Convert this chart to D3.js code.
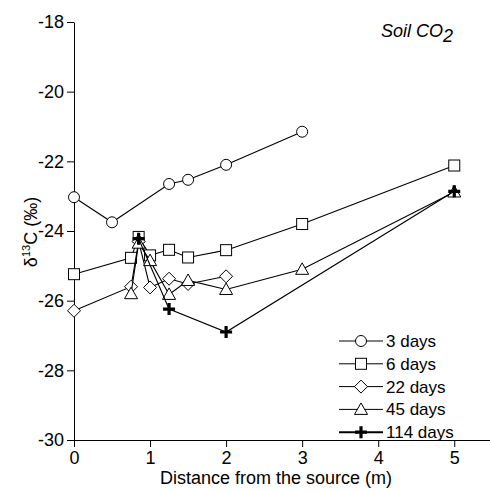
<!DOCTYPE html>
<html>
<head>
<meta charset="utf-8">
<script src="https://cdn.jsdelivr.net/npm/d3@7"></script>
<style>
  body { margin: 0; background: #fff; }
  text { font-family: "Liberation Sans", Arial, sans-serif; }
</style>
</head>
<body>
<div class="svg-div"></div>
<script>
// distance from source (m) and d13C values per sampling day
const seriesNames = ["3 days", "6 days", "22 days", "45 days", "114 days"];
const d3Dist = [0, 0.5, 1.25, 1.5, 2, 3];
const d3Vals = [-23.03, -23.75, -22.65, -22.53, -22.1, -21.15];
const d6Dist = [0, 0.75, 0.85, 1, 1.25, 1.5, 2, 3, 5];
const d6Vals = [-25.24, -24.77, -24.17, -24.7, -24.54, -24.76, -24.55, -23.8, -22.12];
const d22Dist = [0, 0.75, 0.85, 1, 1.25, 1.5, 2];
const d22Vals = [-26.29, -25.6, -24.3, -25.62, -25.37, -25.52, -25.3];
const d45Dist = [0.75, 0.85, 1, 1.25, 1.5, 2, 3, 5];
const d45Vals = [-25.8, -24.35, -24.85, -25.82, -25.42, -25.68, -25.1, -22.88];
const d114Dist = [0.85, 1.25, 2, 5];
const d114Vals = [-24.22, -26.24, -26.9, -22.86];
const xTicks = [0, 1, 2, 3, 4, 5];
const yTicks = [-30, -28, -26, -24, -22, -20, -18];

const allSeries = [
  {name: seriesNames[0], sym: "circle", dist: d3Dist, vals: d3Vals},
  {name: seriesNames[1], sym: "square", dist: d6Dist, vals: d6Vals},
  {name: seriesNames[2], sym: "diamond", dist: d22Dist, vals: d22Vals},
  {name: seriesNames[3], sym: "triangle", dist: d45Dist, vals: d45Vals},
  {name: seriesNames[4], sym: "plus", dist: d114Dist, vals: d114Vals}
];

const svgWidth = 490, svgHeight = 492;
const margin = {left: 74, right: 0, top: 22, bottom: 52};
const width = svgWidth - margin.left - margin.right;
const height = svgHeight - margin.top - margin.bottom;

let svg = d3.select(".svg-div").append("svg")
  .attr("width", svgWidth)
  .attr("height", svgHeight);

let x = d3.scaleLinear().domain([0, 5.47]).range([0, width]);
let y = d3.scaleLinear().domain([-30, -18]).range([height, 0]);

let g = svg.append("g")
  .attr("transform", "translate(" + margin.left + "," + margin.top + ")");

let fmt = d => String(d);

g.append("g")
  .attr("transform", "translate(0," + height + ")")
  .call(d3.axisBottom(x).tickValues(xTicks).tickFormat(fmt).tickSize(7).tickPadding(4).tickSizeOuter(0))
  .call(a => a.selectAll("text").attr("font-size", 18).attr("fill", "#000"))
  .call(a => a.selectAll("line,path").attr("stroke", "#000"));

g.append("g")
  .call(d3.axisLeft(y).tickValues(yTicks).tickFormat(fmt).tickSize(7).tickPadding(3).tickSizeOuter(0))
  .call(a => a.selectAll("text").attr("font-size", 18).attr("fill", "#000"))
  .call(a => a.selectAll("line,path").attr("stroke", "#000"));

svg.append("text")
  .attr("x", 276)
  .attr("y", 484)
  .attr("text-anchor", "middle")
  .attr("font-size", 18)
  .text("Distance from the source (m)");

let yl = svg.append("text")
  .attr("transform", "translate(37,232) rotate(-90)")
  .attr("text-anchor", "middle")
  .attr("font-size", 18)
  .attr("fill", "#000");
yl.append("tspan").text("δ");
yl.append("tspan").attr("font-size", 11).attr("dy", -7).text("13");
yl.append("tspan").attr("dy", 7).text("C (‰)");

let tt = svg.append("text")
  .attr("x", 381).attr("y", 37)
  .attr("font-size", 18)
  .attr("font-style", "italic");
tt.append("tspan").text("Soil CO");
tt.append("tspan").attr("dy", 5).text("2");

function drawSym(sel, sym) {
  if (sym === "circle") {
    sel.append("circle").attr("r", 5.5).attr("fill", "#fff").attr("stroke", "#000");
  } else if (sym === "square") {
    sel.append("rect").attr("x", -5.5).attr("y", -5.5).attr("width", 11).attr("height", 11)
      .attr("fill", "#fff").attr("stroke", "#000");
  } else if (sym === "diamond") {
    sel.append("path").attr("d", "M0,-6.5L6.5,0L0,6.5L-6.5,0Z").attr("fill", "#fff").attr("stroke", "#000");
  } else if (sym === "triangle") {
    sel.append("path").attr("d", "M0,-6.5L6.5,5L-6.5,5Z").attr("fill", "#fff").attr("stroke", "#000");
  } else {
    sel.append("path").attr("d", "M-6,0H6M0,-6V6").attr("stroke", "#000").attr("stroke-width", 3.2);
  }
}

let line = d3.line().x(d => x(d[0])).y(d => y(d[1]));

allSeries.forEach(s => {
  let pts = s.dist.map((d, i) => [d, s.vals[i]]);
  let sg = g.append("g");
  sg.append("path")
    .attr("d", line(pts))
    .attr("fill", "none")
    .attr("stroke", "#000")
    .attr("stroke-width", 1.1);
  sg.selectAll(".pt")
    .data(pts)
    .enter()
    .append("g")
    .attr("class", "pt")
    .attr("transform", d => "translate(" + x(d[0]) + "," + y(d[1]) + ")")
    .each(function () { drawSym(d3.select(this), s.sym); });
});

// legend
let lg = svg.append("g").attr("transform", "translate(339,341)");
allSeries.forEach((s, i) => {
  let row = lg.append("g").attr("transform", "translate(0," + (i * 22.8) + ")");
  row.append("line").attr("x1", 0).attr("x2", 44).attr("stroke", "#000")
    .attr("stroke-width", s.sym === "plus" ? 2 : 1);
  let m = row.append("g").attr("transform", "translate(22,0)");
  drawSym(m, s.sym);
  row.append("text").attr("x", 47).attr("y", 6).attr("font-size", 17).text(s.name);
});
</script>
</body>
</html>
